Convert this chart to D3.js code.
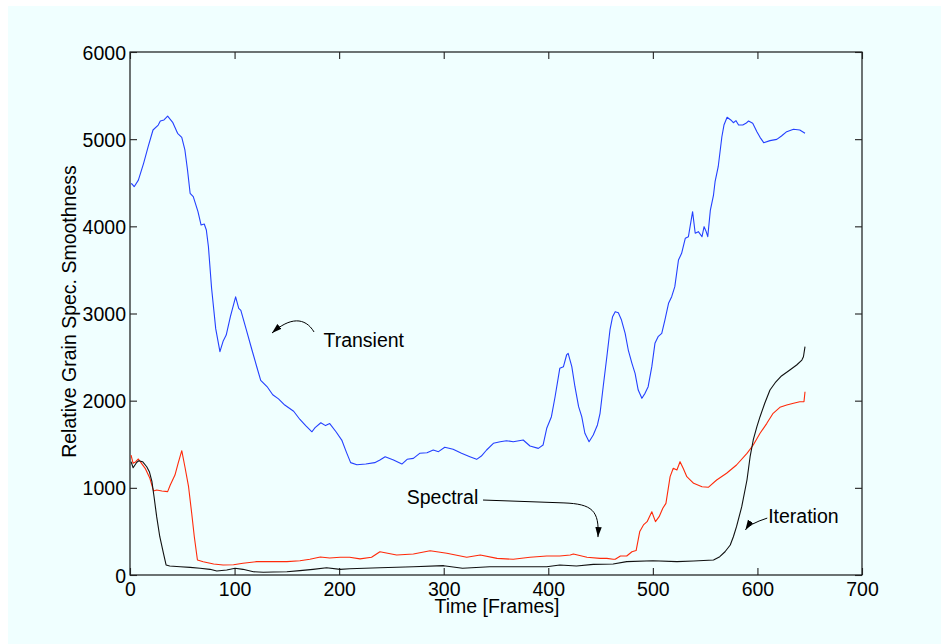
<!DOCTYPE html>
<html>
<head>
<meta charset="utf-8">
<script src="https://cdn.jsdelivr.net/npm/d3@7/dist/d3.min.js"></script>
<style>
  html, body { margin: 0; padding: 0; background: #ffffff; }
  svg { display: block; }
  text { font-family: "Liberation Sans", Arial, Helvetica, sans-serif; fill: #000; }
</style>
</head>
<body>
<svg id="chart" width="941" height="644"></svg>
<script>
// ---------------- DATA ----------------
const xTicks = [0, 100, 200, 300, 400, 500, 600, 700];
const yTicks = [0, 1000, 2000, 3000, 4000, 5000, 6000];
const xLabel = "Time [Frames]";
const yLabel = "Relative Grain Spec. Smoothness";

const transientFrames = [1,2,4,8,13,17.5,22,27,29,32.5,36,41,45.5,49.5,52.5,55,57.5,60.5,65,68,71,73,75,78,82,86,89,92,96,101,104,106,111,116.5,121,125,131,136.5,142,148,156.5,162.5,168,174,177,182.5,187,191,197,202.5,207,211,217,225.5,234,239,244,252,260,265,271,277,284,290,295,301,309,317,325,331.5,336,341,347.5,354,360,366.5,376,382.5,390.5,395,398.5,403,406.5,411,414.5,417.5,419,422.5,425.5,429,432,435,439,443,447,449.5,452.5,456,459,461.5,464,467,470,473.5,476.5,480,483,486,489.5,492.5,495.5,499,502,505,508.5,511.5,515,518,521,524.5,527.5,531,534,538,540.5,543.5,547,549,551,552.5,555,558,559.5,562.5,566,568,571,574.5,577,579.5,582,586,589,591.5,595.5,599.5,602.5,606,612,618.5,623,628,634.5,640.5,645.5];
const transientValues = [4490,4485,4455,4530,4723,4921,5105,5162,5208,5220,5265,5189,5067,5021,4876,4646,4379,4340,4168,4015,4027,3958,3766,3292,2823,2563,2681,2752,2965,3191,3059,3035,2823,2587,2398,2233,2162,2068,2020,1950,1879,1784,1714,1643,1690,1747,1714,1737,1643,1548,1407,1289,1265,1274,1289,1319,1357,1319,1273,1327,1338,1396,1403,1434,1415,1465,1442,1396,1357,1327,1365,1434,1511,1529,1541,1529,1549,1480,1453,1491,1683,1816,2045,2371,2390,2524,2543,2390,2160,1931,1816,1626,1529,1606,1721,1855,2160,2504,2811,2963,3021,3009,2925,2773,2581,2428,2314,2122,2027,2084,2160,2390,2658,2734,2773,2925,3117,3193,3308,3614,3690,3863,3881,4168,3920,3939,3881,3996,3939,3881,4187,4359,4512,4684,5028,5162,5251,5220,5189,5212,5162,5162,5182,5208,5182,5086,5021,4960,4983,4998,5036,5086,5113,5105,5067];

const spectralFrames = [1,3,5.5,8,11,14.5,19,22.5,25.5,30.5,36,38.5,43,46,49.5,52.5,56,59,61.5,64.5,70,80,89,99,108,121,137,150,162.5,172,182,191,201,210,220,231,239,255,271,287,303,322,335,351,366.5,382.5,398.5,411,421,424,437,449.5,456,462,464,469,475,480,484,487.5,491,494.5,499,502.5,506,509.5,512.5,516.5,519.5,523,526,529,532.5,539,547,553,561,570.5,580,590,596,602.5,609,615,621.5,628,634.5,640.5,644.5,645.5];
const spectralValues = [1376,1281,1300,1331,1281,1224,1109,964,975,964,956,1032,1147,1281,1426,1242,1013,708,439,172,153,126,115,118,134,153,153,153,164,180,206,195,203,203,185,203,267,229,241,279,249,203,229,191,180,203,218,218,229,241,203,191,191,180,180,218,218,267,280,500,574,612,726,612,669,765,822,1128,1224,1205,1300,1224,1128,1052,1013,1006,1090,1167,1262,1396,1491,1626,1740,1855,1924,1950,1970,1988,1988,2103];

const iterationFrames = [1,3,6.5,8.5,12,16,18.5,21,23,25.5,28.5,32,34.5,38,48,57.5,67,76.5,83,92.5,100.5,108,118,127.5,137,150,162.5,175,188,201,210,239,271,300,318,344,366.5,398.5,411,427,443,462,475,500,523,539,558,564,569,574,577,580,585,590,593,596,599.5,602.5,607,612,617,623,631,637.5,642.5,644,645.5];
const iterationValues = [1300,1231,1293,1311,1300,1242,1185,1070,898,669,439,249,115,103,95,88,77,65,46,57,77,65,38,31,34,38,50,65,84,65,72,84,95,107,77,95,95,95,115,103,122,126,153,164,153,161,172,210,267,344,439,554,784,1090,1357,1549,1702,1816,1970,2122,2206,2283,2352,2409,2466,2504,2619];

const seriesNames = ["Transient", "Spectral", "Iteration"];
const seriesColors = ["#2440ff", "#ff2a0a", "#111111"];

// annotation anchors in data coordinates [frame, value]
const annotationText = [
  { name: "Transient", at: [185, 2612] },
  { name: "Spectral",  at: [264.6, 811] },
  { name: "Iteration", at: [610.3, 602] }
];

// ---------------- LAYOUT ----------------
const W = 941, H = 644;
const L = 130, R = 862, T = 52, B = 575;
const svg = d3.select("#chart");

svg.append("rect").attr("x", 8).attr("y", 6).attr("width", W - 8).attr("height", H - 6).attr("fill", "#f0ffff");

const x = d3.scaleLinear().domain([0, 700]).range([L, R]);
const y = d3.scaleLinear().domain([0, 6000]).range([B, T]);

const FS = "19.5px";
const tickLen = 7;

// box
svg.append("rect").attr("x", L).attr("y", T).attr("width", R - L).attr("height", B - T)
  .attr("fill", "none").attr("stroke", "#000").attr("stroke-width", 1.1);

// inward ticks on all four sides using d3 axes
const axB = d3.axisBottom(x).tickValues(xTicks).tickSizeInner(-tickLen).tickSizeOuter(0).tickPadding(tickLen + 6).tickFormat(d3.format("d"));
const axT = d3.axisTop(x).tickValues(xTicks).tickSizeInner(-tickLen).tickSizeOuter(0).tickFormat("");
const axL = d3.axisLeft(y).tickValues(yTicks).tickSizeInner(-tickLen).tickSizeOuter(0).tickPadding(tickLen + 4).tickFormat(d3.format("d"));
const axR = d3.axisRight(y).tickValues(yTicks).tickSizeInner(-tickLen).tickSizeOuter(0).tickFormat("");

function styleAxis(g) {
  g.select(".domain").remove();
  g.selectAll(".tick line").attr("stroke", "#222").attr("stroke-width", 1.1);
  g.selectAll(".tick text").style("font-size", FS).attr("fill", "#000");
}
svg.append("g").attr("transform", `translate(0,${B})`).call(axB).call(styleAxis)
  .selectAll(".tick text").attr("dy", null).attr("y", 21);
svg.append("g").attr("transform", `translate(0,${T})`).call(axT).call(styleAxis);
svg.append("g").attr("transform", `translate(${L},0)`).call(axL).call(styleAxis)
  .selectAll(".tick text").attr("x", -4).attr("dy", "0.36em");
svg.append("g").attr("transform", `translate(${R},0)`).call(axR).call(styleAxis);

// axis labels
svg.append("text").attr("x", (L + R) / 2 + 1).attr("y", 613).attr("text-anchor", "middle")
  .style("font-size", FS).text(xLabel);
svg.append("text").attr("transform", `translate(76,${(T + B) / 2 - 2}) rotate(-90)`)
  .attr("text-anchor", "middle").style("font-size", FS).text(yLabel);

// lines
const series = [
  { frames: transientFrames, values: transientValues },
  { frames: spectralFrames, values: spectralValues },
  { frames: iterationFrames, values: iterationValues }
];
const line = d3.line().x(d => x(d[0])).y(d => y(d[1]));
const clip = svg.append("clipPath").attr("id", "plotclip").append("rect")
  .attr("x", L).attr("y", T).attr("width", R - L).attr("height", B - T);
const gLines = svg.append("g").attr("clip-path", "url(#plotclip)");
// draw in order: black underneath? draw transient, spectral, iteration
series.forEach((s, i) => {
  const pts = s.frames.map((f, j) => [f, s.values[j]]);
  gLines.append("path").datum(pts).attr("d", line)
    .attr("fill", "none").attr("stroke", seriesColors[i]).attr("stroke-width", 1.1)
    .attr("stroke-linejoin", "round");
});

// annotations
svg.append("defs").append("marker").attr("id", "arrow")
  .attr("viewBox", "0 -4 10 8").attr("refX", 10).attr("refY", 0)
  .attr("markerWidth", 10).attr("markerHeight", 8).attr("markerUnits", "userSpaceOnUse")
  .attr("orient", "auto")
  .append("path").attr("d", "M0,-3.2L10,0L0,3.2Z").attr("fill", "#000");

annotationText.forEach(a => {
  svg.append("text").attr("x", x(a.at[0])).attr("y", y(a.at[1]))
    .style("font-size", FS).text(a.name);
});

// arrow paths defined in data coordinates
const arrows = [
  [[176.0, 2788], [167.4, 2960], [153, 2960], [135.8, 2776]],
  [[337.6, 860], [416, 833], [442, 820], [447.5, 430]],
  [[609.4, 653], [598, 610], [592, 585], [588.5, 517]]
];
arrows.forEach((p, i) => {
  let d;
  if (i === 1) {
    // straight leader then bend down
    const s = p[0].map((v, k) => k === 0 ? x(v) : y(v));
    const m = [x(p[1][0]), y(p[1][1])];
    d = `M${x(p[0][0])},${y(p[0][1])} L${x(415)},${y(827)} C${x(442)},${y(815)} ${x(449)},${y(740)} ${x(447.5)},${y(435)}`;
  } else if (i === 2) {
    d = `M${x(p[0][0])},${y(p[0][1])} Q${x(p[2][0])},${y(p[2][1])} ${x(p[3][0])},${y(p[3][1])}`;
  } else {
    d = `M${x(p[0][0])},${y(p[0][1])} C${x(p[1][0])},${y(p[1][1])} ${x(p[2][0])},${y(p[2][1])} ${x(p[3][0])},${y(p[3][1])}`;
  }
  svg.append("path").attr("d", d).attr("fill", "none").attr("stroke", "#000")
    .attr("stroke-width", 1).attr("marker-end", "url(#arrow)");
});
</script>
</body>
</html>
